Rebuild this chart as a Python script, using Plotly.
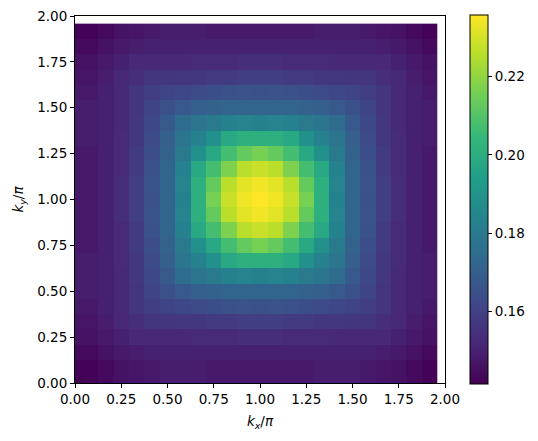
import plotly.graph_objects as go

# k/pi grid centres (24 points, step 1/12)
k_vals = [n / 12 for n in range(24)]

# Quadrant of values: rows = ky index 0..12, cols = kx index 0..12
quad_rows = [
    [0.1415, 0.142, 0.144, 0.146, 0.147, 0.148, 0.149, 0.149, 0.149, 0.148, 0.148, 0.148, 0.148],
    [0.142, 0.142, 0.144, 0.146, 0.147, 0.148, 0.149, 0.149, 0.149, 0.148, 0.148, 0.148, 0.148],
    [0.144, 0.144, 0.146, 0.148, 0.149, 0.150, 0.150, 0.150, 0.150, 0.150, 0.150, 0.150, 0.150],
    [0.146, 0.146, 0.148, 0.150, 0.152, 0.152, 0.152, 0.152, 0.153, 0.153, 0.153, 0.154, 0.154],
    [0.147, 0.147, 0.149, 0.152, 0.154, 0.156, 0.156, 0.157, 0.157, 0.158, 0.158, 0.159, 0.159],
    [0.148, 0.148, 0.150, 0.152, 0.156, 0.159, 0.161, 0.162, 0.163, 0.164, 0.165, 0.166, 0.165],
    [0.149, 0.149, 0.150, 0.152, 0.156, 0.161, 0.165, 0.168, 0.170, 0.171, 0.172, 0.172, 0.172],
    [0.149, 0.149, 0.150, 0.152, 0.157, 0.162, 0.168, 0.175, 0.178, 0.180, 0.183, 0.184, 0.183],
    [0.149, 0.149, 0.150, 0.153, 0.157, 0.163, 0.170, 0.178, 0.183, 0.189, 0.198, 0.201, 0.201],
    [0.148, 0.148, 0.150, 0.153, 0.158, 0.164, 0.171, 0.180, 0.189, 0.198, 0.207, 0.213, 0.216],
    [0.148, 0.148, 0.150, 0.153, 0.158, 0.165, 0.172, 0.183, 0.198, 0.207, 0.217, 0.226, 0.228],
    [0.148, 0.148, 0.150, 0.154, 0.159, 0.166, 0.172, 0.184, 0.201, 0.213, 0.226, 0.232, 0.234],
    [0.148, 0.148, 0.150, 0.154, 0.159, 0.165, 0.172, 0.183, 0.201, 0.216, 0.228, 0.234, 0.2357],
]

x_ticks = [0, 0.25, 0.5, 0.75, 1.0, 1.25, 1.5, 1.75, 2.0]
x_tick_text = ["0.00", "0.25", "0.50", "0.75", "1.00", "1.25", "1.50", "1.75", "2.00"]
cbar_ticks = [0.16, 0.18, 0.20, 0.22]
cbar_tick_text = ["0.16", "0.18", "0.20", "0.22"]


def idx(n):
    return n if n <= 12 else 24 - n


z = [[quad_rows[idx(j)][idx(i)] for i in range(24)] for j in range(24)]

font = dict(family="DejaVu Sans", size=13.5, color="black")

# The page body adds an 8 px offset, so the figure is laid out 8 px smaller.
OFF = 8
W, H = 538 - OFF, 441 - OFF
L, R_EDGE, T, B_EDGE = 75 - OFF, 445 - OFF, 16 - OFF, 383 - OFF

fig = go.Figure(
    go.Heatmap(
        x=k_vals,
        y=k_vals,
        z=z,
        colorscale="Viridis",
        colorbar=dict(
            x=(470 - 75) / 370,
            xanchor="left",
            y=(383 - 384) / 367,
            yanchor="bottom",
            len=369 / 367,
            lenmode="fraction",
            thickness=18,
            xpad=0,
            ypad=0,
            outlinewidth=1,
            outlinecolor="black",
            ticks="outside",
            ticklen=4,
            tickcolor="black",
            tickvals=cbar_ticks,
            ticktext=cbar_tick_text,
            tickfont=font,
        ),
        hoverinfo="skip",
    )
)

axis_common = dict(
    range=[0, 2],
    tickvals=x_ticks,
    ticktext=x_tick_text,
    ticks="outside",
    ticklen=4,
    tickwidth=1,
    tickcolor="black",
    showline=True,
    linecolor="black",
    linewidth=1,
    mirror=True,
    showgrid=False,
    zeroline=False,
    tickfont=font,
    ticklabeloverflow="allow",
)

fig.update_layout(
    width=W,
    height=H,
    margin=dict(l=L, r=W - R_EDGE, t=T, b=H - B_EDGE, autoexpand=False),
    plot_bgcolor="white",
    paper_bgcolor="white",
    font=font,
    xaxis=dict(axis_common, automargin=False,
               title=dict(text="<i>k</i><sub><i>x</i></sub>/<i>π</i>", font=font, standoff=10)),
    yaxis=dict(axis_common, automargin=False,
               title=dict(text="<i>k</i><sub><i>y</i></sub>/<i>π</i>", font=font, standoff=10)),
)

fig.write_html("out.html")
